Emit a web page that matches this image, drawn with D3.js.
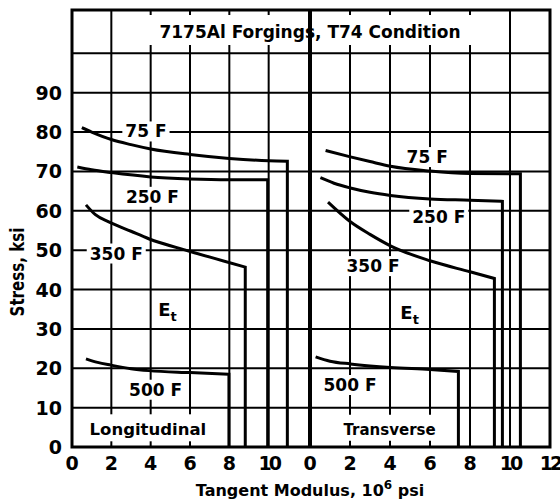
<!DOCTYPE html>
<html>
<head>
<meta charset="utf-8">
<script src="https://cdn.jsdelivr.net/npm/d3@7"></script>
<style>
  body { margin: 0; background: #fff; }
  svg { display: block; font-family: 'DejaVu Sans', sans-serif; font-weight: bold; }
</style>
</head>
<body>
<div class="chart"></div>
<script>
const WIDTH = 560
const HEIGHT = 503

// tangent modulus (10^6 psi) and stress (ksi)
const longModulus75 = [0.5, 1, 2, 3, 4, 6, 8, 10, 10.95]
const longStress75 = [81.1, 80.0, 78.1, 76.8, 75.7, 74.3, 73.3, 72.7, 72.6]
const longModulus250 = [0.27, 1, 2, 4, 6, 8, 9.95]
const longStress250 = [71.1, 70.4, 69.7, 68.6, 68.1, 67.9, 67.9]
const longModulus350 = [0.71, 1.19, 1.87, 3, 3.9, 5.93, 8.81]
const longStress350 = [61.5, 59.0, 57.2, 54.8, 52.9, 49.8, 45.7]
const longModulus500 = [0.71, 1.3, 1.98, 3, 3.91, 6, 7.98]
const longStress500 = [22.4, 21.5, 20.8, 19.9, 19.4, 18.9, 18.5]

const transModulus75 = [0.78, 2.02, 3, 4.02, 6, 8, 10.52]
const transStress75 = [75.3, 73.7, 72.5, 71.3, 70.1, 69.5, 69.4]
const transModulus250 = [0.52, 1.2, 2.02, 3, 4.02, 6, 8, 9.62]
const transStress250 = [68.4, 67.0, 65.8, 64.7, 63.9, 63.0, 62.7, 62.4]
const transModulus350 = [0.9, 2.02, 3, 4.02, 6, 8, 9.22]
const transStress350 = [62.2, 57.2, 54.0, 51.1, 47.3, 44.5, 42.8]
const transModulus500 = [0.28, 1, 2.02, 3, 4.02, 6, 7.42]
const transStress500 = [22.9, 21.8, 21.1, 20.6, 20.2, 19.7, 19.2]

const stressTicks = [0, 10, 20, 30, 40, 50, 60, 70, 80, 90]
const stressGrid = [10, 20, 30, 40, 50, 60, 70, 80, 90, 100]
const longTicks = [0, 2, 4, 6, 8, 10]
const transTicks = [0, 2, 4, 6, 8, 10, 12]
const modulusGrid = [2, 4, 6, 8, 10]

const labelPanel = ['long', 'long', 'long', 'long', 'long', 'long', 'trans', 'trans', 'trans', 'trans', 'trans', 'trans']
const labelText = ['75 F', '250 F', '350 F', 'E', '500 F', 'Longitudinal', '75 F', '250 F', '350 F', 'E', '500 F', 'Transverse']
const labelSub = ['', '', '', 't', '', '', '', '', '', 't', '', '']
const labelModulus = [3.76, 4.09, 2.25, 4.86, 4.25, 3.86, 5.86, 6.44, 3.15, 4.98, 2.0, 3.98]
const labelStress = [80.2, 63.6, 49.2, 35, 14.6, 4.5, 73.7, 58.5, 46, 34.3, 15.8, 4.5]

const TITLE = '7175Al Forgings, T74 Condition'

const curves = [
  { panel: 'long', modulus: longModulus75, stress: longStress75 },
  { panel: 'long', modulus: longModulus250, stress: longStress250 },
  { panel: 'long', modulus: longModulus350, stress: longStress350 },
  { panel: 'long', modulus: longModulus500, stress: longStress500 },
  { panel: 'trans', modulus: transModulus75, stress: transStress75 },
  { panel: 'trans', modulus: transModulus250, stress: transStress250 },
  { panel: 'trans', modulus: transModulus350, stress: transStress350 },
  { panel: 'trans', modulus: transModulus500, stress: transStress500 }
]

const labels = labelText.map((text, i) => ({
  text,
  sub: labelSub[i],
  panel: labelPanel[i],
  modulus: labelModulus[i],
  stress: labelStress[i]
}))

const xLong = d3.scaleLinear().domain([0, 12]).range([72, 308])
const xTrans = d3.scaleLinear().domain([0, 12]).range([310, 550])
const y = d3.scaleLinear().domain([0, 111]).range([447, 10])
const xOf = panel => panel === 'long' ? xLong : xTrans

const svg = d3.select('.chart').append('svg')
  .attr('width', WIDTH)
  .attr('height', HEIGHT)

const gGrid = svg.append('g').attr('class', 'g-grid')
const gBoxes = svg.append('g').attr('class', 'g-boxes')
const gCurves = svg.append('g').attr('class', 'g-curves')
const gFrame = svg.append('g').attr('class', 'g-frame')
const gText = svg.append('g').attr('class', 'g-text')

// grid
gGrid.selectAll('line.h').data(stressGrid).enter().append('line')
  .attr('class', 'h')
  .attr('x1', xLong(0)).attr('x2', xTrans(12))
  .attr('y1', d => y(d)).attr('y2', d => y(d))
  .attr('stroke', '#000').attr('stroke-width', 2)

const vGrid = modulusGrid.map(d => xLong(d)).concat(modulusGrid.map(d => xTrans(d)))
gGrid.selectAll('line.v').data(vGrid).enter().append('line')
  .attr('class', 'v')
  .attr('x1', d => d).attr('x2', d => d)
  .attr('y1', y(0)).attr('y2', y(111))
  .attr('stroke', '#000').attr('stroke-width', 2)

// curves, each ending in a vertical drop to zero stress
const line = d3.line().curve(d3.curveMonotoneX)

gCurves.selectAll('path').data(curves).enter().append('path')
  .attr('d', d => {
    const x = xOf(d.panel)
    const pts = d.modulus.map((m, i) => [x(m), y(d.stress[i])])
    const last = d.modulus[d.modulus.length - 1]
    return line(pts) + 'L' + x(last) + ',' + y(0)
  })
  .attr('fill', 'none')
  .attr('stroke', '#000')
  .attr('stroke-width', 3)
  .attr('stroke-linejoin', 'miter')

// frame and panel divider
gFrame.append('rect')
  .attr('x', xLong(0)).attr('y', y(111))
  .attr('width', xTrans(12) - xLong(0))
  .attr('height', y(0) - y(111))
  .attr('fill', 'none')
  .attr('stroke', '#000')
  .attr('stroke-width', 3)

gFrame.append('line')
  .attr('x1', xTrans(0)).attr('x2', xTrans(0))
  .attr('y1', y(0)).attr('y2', y(111))
  .attr('stroke', '#000').attr('stroke-width', 4)

// labels inside the plot
function labelSize (t) {
  if (t === 'E') return 18
  if (t === 'Longitudinal') return 16.5
  if (t === 'Transverse') return 15
  return 17
}

function boxPad (t) {
  if (t === 'Longitudinal') return { x: 10, top: 6, bottom: 2 }
  if (t === 'Transverse') return { x: 5, top: 6, bottom: 2 }
  return { x: 3, top: 0, bottom: 0 }
}

labels.forEach(d => {
  const size = labelSize(d.text)
  const text = gText.append('text')
    .attr('x', xOf(d.panel)(d.modulus))
    .attr('y', y(d.stress) + size * 0.365)
    .attr('text-anchor', 'middle')
    .attr('font-size', size)
  text.append('tspan').text(d.text)
  if (d.sub) {
    text.append('tspan').text(d.sub).attr('font-size', 13).attr('dy', 5)
  }
  const b = text.node().getBBox()
  const p = boxPad(d.text)
  gBoxes.append('rect')
    .attr('x', b.x - p.x).attr('y', b.y - p.top)
    .attr('width', b.width + 2 * p.x)
    .attr('height', b.height + p.top + p.bottom)
    .attr('fill', '#fff')
})

// title in the top row
const title = gText.append('text')
  .attr('x', xTrans(0))
  .attr('y', 38)
  .attr('text-anchor', 'middle')
  .attr('font-size', 17)
  .text(TITLE)
const tb = title.node().getBBox()
gBoxes.append('rect')
  .attr('x', tb.x - 12).attr('y', tb.y - 7)
  .attr('width', tb.width + 24).attr('height', tb.height + 10)
  .attr('fill', '#fff')

// tick labels
gText.selectAll('text.y-tick').data(stressTicks).enter().append('text')
  .attr('class', 'y-tick')
  .attr('x', 62)
  .attr('y', d => y(d) + 7)
  .attr('text-anchor', 'end')
  .attr('font-size', 19)
  .attr('font-weight', 'normal')
  .style('font-weight', 600)
  .text(d => d)

const xTickData = longTicks.map(v => ({ v, x: xLong(v) })).concat(transTicks.map(v => ({ v, x: xTrans(v) })))
gText.selectAll('text.x-tick').data(xTickData).enter().append('text')
  .attr('class', 'x-tick')
  .attr('x', d => d.x)
  .attr('y', 470)
  .attr('text-anchor', 'middle')
  .attr('font-size', 19)
  .style('font-weight', 600)
  .style('letter-spacing', d => d.v >= 10 ? '-3px' : null)
  .text(d => d.v)

// axis titles
const xTitle = gText.append('text')
  .attr('x', xTrans(0))
  .attr('y', 496)
  .attr('text-anchor', 'middle')
  .attr('font-size', 16)
xTitle.append('tspan').text('Tangent Modulus, 10')
xTitle.append('tspan').text('6').attr('font-size', 12).attr('dy', -7)
xTitle.append('tspan').text(' psi').attr('dy', 7)

gText.append('text')
  .attr('transform', 'translate(24,272) rotate(-90)')
  .attr('text-anchor', 'middle')
  .attr('font-size', 19)
  .attr('textLength', 89)
  .attr('lengthAdjust', 'spacingAndGlyphs')
  .text('Stress, ksi')
</script>
</body>
</html>
